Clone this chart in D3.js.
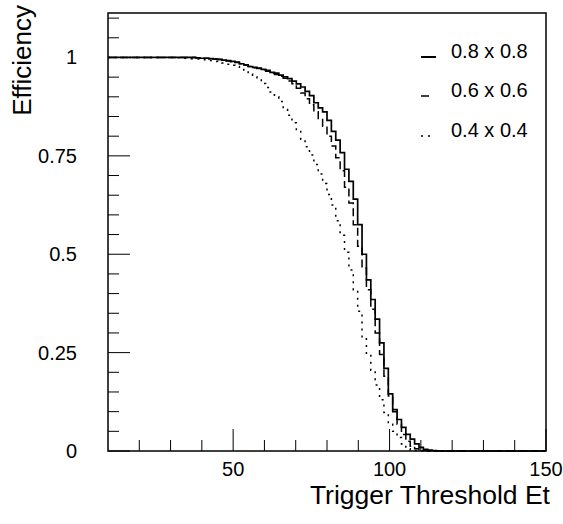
<!DOCTYPE html>
<html>
<head>
<meta charset="utf-8">
<script src="https://cdn.jsdelivr.net/npm/d3@7"></script>
<style>
body { margin: 0; background: #fff; }
svg { display: block; font-family: "Liberation Sans", Arial, sans-serif; }
</style>
</head>
<body>
<svg id="chart" width="563" height="524"></svg>
<script>
// histogram binning: 100 bins from 10 to 150
var binStart = 10;
var binWidth = 1.4;

// efficiency per bin
var eff08 = [1,1,1,1,1,1,1,1,1,1, 1,1,1,1,1,1,1,1,1,1,
 0.999,0.998,0.998,0.997,0.996,0.995,0.993,0.992,0.99,0.988,
 0.984,0.981,0.977,0.975,0.973,0.97,0.967,0.962,0.96,0.955,
 0.951,0.946,0.94,0.933,0.925,0.914,0.903,0.885,0.872,0.862,
 0.84,0.812,0.79,0.758,0.716,0.685,0.64,0.575,0.5,0.435,
 0.385,0.335,0.275,0.21,0.145,0.105,0.08,0.06,0.042,0.03,
 0.018,0.009,0.004,0.002,0.001,0,0,0,0,0,
 0,0,0,0,0,0,0,0,0,0, 0,0,0,0,0,0,0,0,0,0];
var eff06 = [1,1,1,1,1,1,1,1,1,1, 1,1,1,1,1,1,1,1,1,1,
 0.999,0.998,0.998,0.997,0.996,0.995,0.993,0.991,0.989,0.987,
 0.984,0.98,0.977,0.974,0.972,0.969,0.965,0.961,0.957,0.952,
 0.947,0.94,0.933,0.922,0.91,0.895,0.88,0.862,0.845,0.825,
 0.8,0.775,0.745,0.712,0.67,0.63,0.575,0.52,0.465,0.41,
 0.36,0.3,0.245,0.19,0.14,0.1,0.068,0.042,0.025,0.012,
 0.006,0.003,0.001,0,0,0,0,0,0,0,
 0,0,0,0,0,0,0,0,0,0, 0,0,0,0,0,0,0,0,0,0];
var eff04 = [1,1,1,1,1,1,1,1,1,1, 1,1,1,1,1,0.999,0.999,0.998,0.998,0.997,
 0.996,0.995,0.994,0.992,0.99,0.988,0.986,0.983,0.98,0.977,
 0.972,0.966,0.958,0.951,0.943,0.934,0.924,0.912,0.9,0.888,
 0.868,0.853,0.834,0.815,0.792,0.773,0.752,0.728,0.704,0.68,
 0.652,0.625,0.585,0.548,0.505,0.46,0.41,0.355,0.285,0.245,
 0.205,0.168,0.13,0.098,0.068,0.05,0.034,0.018,0.006,0.002,
 0.001,0,0,0,0,0,0,0,0,0,
 0,0,0,0,0,0,0,0,0,0, 0,0,0,0,0,0,0,0,0,0];

var legendLabels = ["0.8 x 0.8", "0.6 x 0.6", "0.4 x 0.4"];
var xTicks = [50, 100, 150];
var yTicks = [0, 0.25, 0.5, 0.75, 1];

var svg = d3.select("#chart");
var fr = {left: 108, right: 546, top: 13, bottom: 451};

var x = d3.scaleLinear().domain([10, 150]).range([fr.left, fr.right]);
var y = d3.scaleLinear().domain([0, 1.113]).range([fr.bottom, fr.top]);

// frame
svg.append("rect").attr("x", fr.left).attr("y", fr.top).attr("width", fr.right - fr.left).attr("height", fr.bottom - fr.top)
 .attr("fill", "none").attr("stroke", "#000").attr("stroke-width", 1.5);

// x ticks: minor every 10, major at 50/100/150
var g = svg.append("g");
d3.range(20, 151, 10).forEach(function(v) {
 var big = v % 50 == 0;
 g.append("line").attr("x1", x(v)).attr("x2", x(v)).attr("y1", fr.bottom).attr("y2", fr.bottom - (big ? 22 : 11))
  .attr("stroke", "#000").attr("stroke-width", 1);
});
// y ticks: minor every 0.05, major every 0.25
d3.range(0, 23).forEach(function(k) {
 var v = k * 0.05;
 if (v > 1.113) return;
 var big = k % 5 == 0;
 g.append("line").attr("x1", fr.left).attr("x2", fr.left + (big ? 22 : 11)).attr("y1", y(v)).attr("y2", y(v))
  .attr("stroke", "#000").attr("stroke-width", 1);
});

svg.selectAll(".xl").data(xTicks).enter().append("text").attr("class", "xl")
 .attr("x", function(d) { return x(d); }).attr("y", 476).attr("text-anchor", "middle")
 .style("font-size", "20px").text(function(d) { return d; });
svg.selectAll(".yl").data(yTicks).enter().append("text").attr("class", "yl")
 .attr("x", 77).attr("y", function(d) { return y(d) + 7; }).attr("text-anchor", "end")
 .style("font-size", "20px").text(function(d) { return d; });

svg.append("text").attr("x", 550).attr("y", 504).attr("text-anchor", "end")
 .style("font-size", "26.5px").text("Trigger Threshold Et");
svg.append("text").attr("transform", "translate(31,5) rotate(-90)").attr("text-anchor", "end")
 .style("font-size", "26px").text("Efficiency");

// histograms drawn as steps
function steps(arr) {
 var pts = [];
 arr.forEach(function(v, i) {
  pts.push([binStart + i * binWidth, v]);
  pts.push([binStart + (i + 1) * binWidth, v]);
 });
 return pts;
}
var line = d3.line().x(function(d) { return x(d[0]); }).y(function(d) { return y(d[1]); });
var series = [
 {data: eff04, dash: "2,5", w: 1.5},
 {data: eff06, dash: "8,4", w: 1.5},
 {data: eff08, dash: null, w: 1.7}
];
series.forEach(function(s) {
 svg.append("path").attr("d", line(steps(s.data))).attr("fill", "none").attr("stroke", "#000")
  .attr("stroke-width", s.w).attr("stroke-dasharray", s.dash);
});

// legend
var legY = [57, 96, 136];
var legLen = [15, 8, 11];
var legDash = [null, "8,4", "2,5"];
legendLabels.forEach(function(t, i) {
 svg.append("line").attr("x1", 421).attr("x2", 421 + legLen[i]).attr("y1", legY[i]).attr("y2", legY[i])
  .attr("stroke", "#000").attr("stroke-width", i == 0 ? 2 : 1.5).attr("stroke-dasharray", legDash[i]);
 svg.append("text").attr("x", 451).attr("y", legY[i] + 1).style("font-size", "20px").text(t);
});
</script>
</body>
</html>
